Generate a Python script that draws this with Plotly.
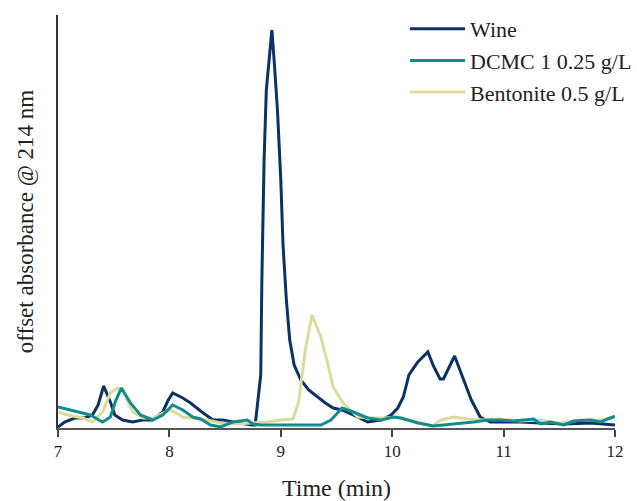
import plotly.graph_objects as go

wine_t = [7.00, 7.06, 7.15, 7.24, 7.31, 7.36, 7.41, 7.47, 7.51, 7.58, 7.67, 7.76, 7.85, 7.94, 7.99,
          8.03, 8.12, 8.19, 8.28, 8.39, 8.48, 8.57, 8.74, 8.77, 8.80, 8.82, 8.83, 8.85, 8.87, 8.90,
          8.92, 8.94, 8.97, 9.00, 9.02, 9.05, 9.08, 9.12, 9.18, 9.25, 9.33, 9.40, 9.47, 9.55, 9.65,
          9.78, 9.90, 9.99, 10.05, 10.10, 10.15, 10.23, 10.32, 10.37, 10.43, 10.46, 10.56, 10.63,
          10.71, 10.79, 10.88, 10.97, 11.15, 11.33, 11.54, 11.78, 12.00]
wine_a = [0.1, 0.6, 1.0, 1.0, 1.3, 2.3, 4.2, 2.6, 1.3, 0.8, 0.6, 0.8, 0.8, 1.6, 2.8,
          3.5, 3.0, 2.5, 1.7, 0.8, 0.8, 0.6, 0.3, 0.3, 3.3, 5.3, 14.8, 26.8, 33.8, 37.3,
          39.8, 36.8, 31.8, 24.8, 18.3, 12.8, 8.8, 6.3, 4.8, 3.8, 3.1, 2.5, 2.0, 1.8, 1.3,
          0.6, 0.8, 1.3, 2.0, 3.1, 5.3, 6.6, 7.6, 6.2, 4.9, 4.9, 7.2, 5.1,
          2.8, 1.1, 0.6, 0.6, 0.6, 0.5, 0.4, 0.5, 0.3]

dcmc_t = [7.00, 7.11, 7.29, 7.40, 7.47, 7.52, 7.57, 7.65, 7.74, 7.85,
          7.94, 8.03, 8.12, 8.21, 8.28, 8.37, 8.46, 8.57, 8.70, 8.75,
          8.82, 9.00, 9.36, 9.45, 9.55, 9.65, 9.78, 9.90, 10.01, 10.08,
          10.23, 10.37, 10.46, 10.59, 10.73, 10.86, 10.97, 11.09, 11.27, 11.33,
          11.42, 11.54, 11.63, 11.78, 11.87, 11.98, 12.00]
dcmc_a = [2.1, 1.8, 1.3, 0.6, 1.1, 2.8, 4.0, 2.5, 1.3, 0.8,
          1.3, 2.3, 1.8, 1.1, 0.9, 0.3, 0.1, 0.6, 0.8, 0.4,
          0.3, 0.3, 0.3, 0.8, 2.0, 1.6, 1.0, 0.8, 1.1, 1.0,
          0.5, 0.2, 0.3, 0.4, 0.6, 0.8, 0.8, 0.7, 0.9, 0.4,
          0.6, 0.3, 0.7, 0.8, 0.6, 1.1, 1.2]

bent_t = [7.00, 7.09, 7.22, 7.31, 7.40, 7.47, 7.53, 7.58, 7.67, 7.76,
          7.85, 7.94, 8.01, 8.12, 8.19, 8.34, 8.46, 8.61, 8.73, 8.88,
          9.00, 9.11, 9.16, 9.19, 9.22, 9.28, 9.36, 9.42, 9.47, 9.56,
          9.69, 9.81, 9.92, 10.05, 10.10, 10.23, 10.36, 10.44, 10.55, 10.68,
          10.79, 10.97, 11.15, 11.33, 11.51, 11.69, 11.87, 12.00]
bent_a = [1.6, 1.3, 1.0, 0.6, 1.6, 3.5, 4.0, 3.8, 1.6, 1.0,
          1.0, 1.5, 1.8, 1.1, 1.0, 0.8, 0.5, 0.4, 0.5, 0.6,
          0.8, 0.9, 2.6, 5.3, 7.8, 11.3, 9.1, 6.5, 4.1, 2.5,
          1.1, 1.0, 1.0, 1.1, 0.9, 0.6, 0.2, 0.8, 1.1, 0.9,
          0.8, 0.9, 0.7, 0.8, 0.5, 0.8, 0.8, 1.1]

x_ticks = [7, 8, 9, 10, 11, 12]

FONT = "Liberation Serif"
fig = go.Figure()
fig.add_trace(go.Scatter(x=wine_t, y=wine_a, mode="lines", name="Wine",
                         line=dict(color="#0b3264", width=3), legendrank=1, legendgroup="a"))
fig.add_trace(go.Scatter(x=bent_t, y=bent_a, mode="lines", name="Bentonite 0.5 g/L",
                         line=dict(color="#dadb9c", width=3), legendrank=3, legendgroup="c"))
fig.add_trace(go.Scatter(x=dcmc_t, y=dcmc_a, mode="lines", name="DCMC 1 0.25 g/L",
                         line=dict(color="#128c8a", width=3), legendrank=2, legendgroup="b"))

fig.update_layout(
    width=637, height=501,
    margin=dict(l=58, r=22, t=15, b=73, autoexpand=False),
    plot_bgcolor="white", paper_bgcolor="white",
    font=dict(family=FONT, color="#222"),
    showlegend=True,
    legend=dict(xref="container", yref="container", x=1.0, y=0.984,
                xanchor="right", yanchor="top",
                font=dict(family=FONT, size=22, color="#222"),
                itemwidth=55, tracegroupgap=0, bgcolor="rgba(0,0,0,0)"),
    xaxis=dict(range=[7, 12], tickvals=x_ticks, ticks="outside", ticklen=7,
               tickwidth=1.5, tickcolor="#444", showline=True, linecolor="#555",
               linewidth=2, showgrid=False, zeroline=False, automargin=False,
               tickfont=dict(family=FONT, size=17, color="#222"),
               title=dict(text="Time (min)", font=dict(family=FONT, size=24, color="#222"),
                          standoff=22)),
    yaxis=dict(range=[0, 41.3], showticklabels=False, ticks="", showline=True,
               linecolor="#333", linewidth=1.5, showgrid=False, zeroline=False,
               automargin=False,
               title=dict(text="offset absorbance @ 214 nm",
                          font=dict(family=FONT, size=23, color="#222"), standoff=16)),
)

fig.write_html("out.html", config={"displayModeBar": False},
               post_script="document.body.style.margin='0';")
